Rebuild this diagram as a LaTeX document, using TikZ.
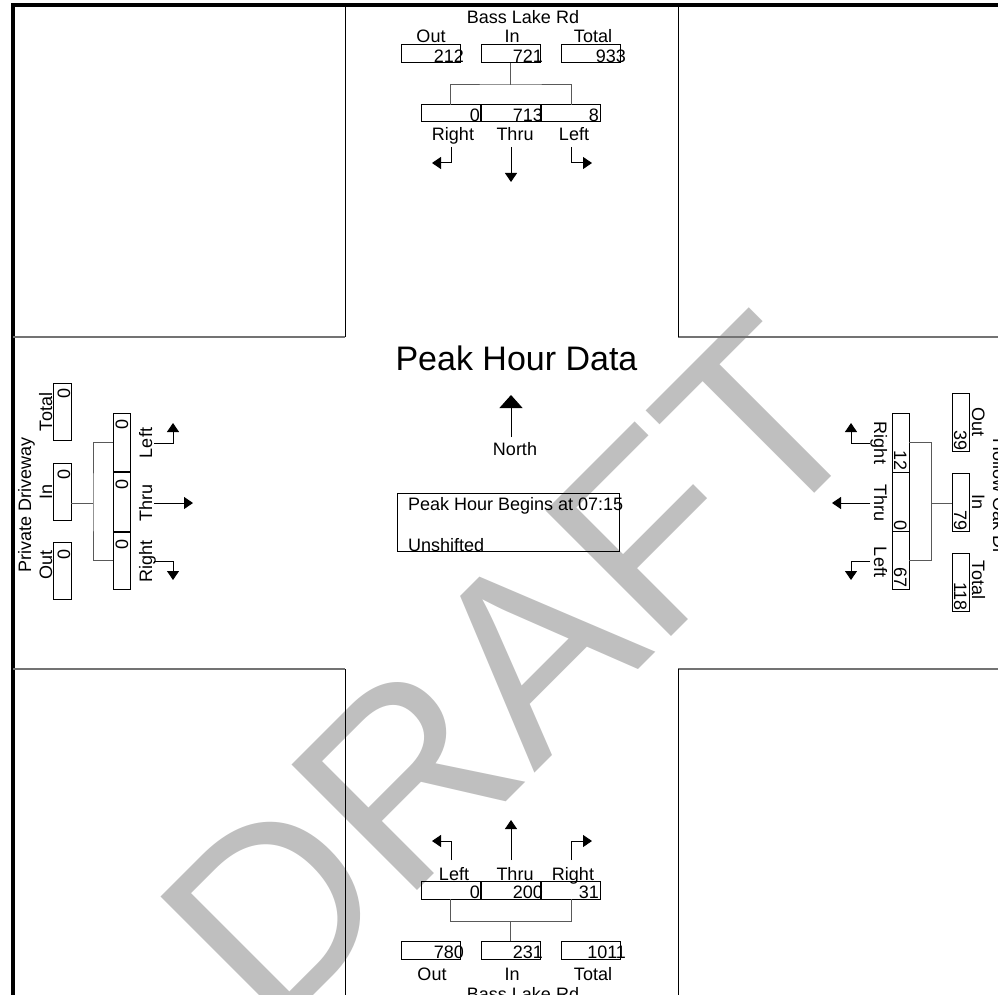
\documentclass[tikz,border=0pt]{standalone}
\usepackage{fontspec}
\setmainfont{Liberation Sans}
\usetikzlibrary{arrows.meta}
\begin{document}
\begin{tikzpicture}[x=1pt,y=-1pt,
  lbl/.style={font=\fontsize{18}{20}\selectfont, inner sep=0pt, outer sep=0pt},
  ttl/.style={font=\fontsize{34}{36}\selectfont, inner sep=0pt, outer sep=0pt},
  wm/.style={font=\fontsize{258}{258}\selectfont, text=black!25, inner sep=0pt, outer sep=0pt},
  hbox/.style={draw=black, line width=1pt, minimum width=59pt, minimum height=18pt, inner sep=0pt, outer sep=0pt},
  vbox/.style={draw=black, line width=1pt, minimum width=18pt, minimum height=58pt, inner sep=0pt, outer sep=0pt},
  conn/.style={draw=black!65, line width=1pt},
  grid/.style={draw=black, line width=1pt},
  hgrid/.style={draw=black!55, line width=1.5pt},
  arr/.style={draw=black, line width=1pt, -{Triangle[length=9pt,width=12pt]}},
  bigarr/.style={draw=black, line width=1pt, -{Triangle[length=13pt,width=23pt]}}
]
\useasboundingbox (0,0) rectangle (998,995);
\clip (0,0) rectangle (998,995);

% watermark
\node[wm, rotate=45, anchor=base west] (wmk) at (271,1037) {DRAFT};

% frame and corner blocks
\draw[line width=4pt] (998,5) -- (13,5) -- (13,995);
\draw[hgrid] (13,337) -- (345,337);
\draw[hgrid] (678,337) -- (998,337);
\draw[hgrid] (13,669) -- (345,669);
\draw[hgrid] (678,669) -- (998,669);
\draw[grid] (345,5) -- (345,337);
\draw[grid] (678,5) -- (678,337);
\draw[grid] (345,669) -- (345,995);
\draw[grid] (678,669) -- (678,995);

% ---------- North approach ----------
\node[lbl, anchor=base] (nName) at (523,24) {Bass Lake Rd};
\node[lbl, anchor=base] (nOutL) at (431,43) {Out};
\node[lbl, anchor=base] (nInL) at (512,43) {In};
\node[lbl, anchor=base] (nTotL) at (593,43) {Total};
\node[hbox] (nOut) at (430.5,54) {};
\node[hbox] (nIn) at (510.5,54) {};
\node[hbox] (nTot) at (591,54) {};
\node[lbl, anchor=base east] (nOutV) at (464,62.5) {212};
\node[lbl, anchor=base east] (nInV) at (543,62.5) {721};
\node[lbl, anchor=base east] (nTotV) at (626,62.5) {933};
\node[hbox, minimum height=17pt] (nR) at (450.5,113.5) {};
\node[hbox, minimum height=17pt] (nT) at (511,113.5) {};
\node[hbox, minimum height=17pt] (nL) at (571,113.5) {};
\node[lbl, anchor=base east] (nRV) at (480,122) {0};
\node[lbl, anchor=base east] (nTV) at (543,122) {713};
\node[lbl, anchor=base east] (nLV) at (599,122) {8};
\coordinate (nJ) at (510.5,85);
\draw[conn] (nIn.south) -- (nJ);
\draw[conn] (nR.north) |- (nJ) -| (nL.north);
\node[lbl, anchor=base] (nRL) at (453,141) {Right};
\node[lbl, anchor=base] (nTL) at (515,141) {Thru};
\node[lbl, anchor=base] (nLL) at (574,141) {Left};
\coordinate (nRa0) at (451,147); \coordinate (nRa1) at (432,163);
\coordinate (nTa0) at (511,147); \coordinate (nTa1) at (511,182);
\coordinate (nLa0) at (571,147); \coordinate (nLa1) at (592,163);
\draw[arr] (nRa0) |- (nRa1);
\draw[arr] (nTa0) -- (nTa1);
\draw[arr] (nLa0) |- (nLa1);

% ---------- South approach ----------
\coordinate (sLa0) at (451,860); \coordinate (sLa1) at (432,841);
\coordinate (sTa0) at (511,860); \coordinate (sTa1) at (511,820);
\coordinate (sRa0) at (571,860); \coordinate (sRa1) at (592,841);
\draw[arr] (sLa0) |- (sLa1);
\draw[arr] (sTa0) -- (sTa1);
\draw[arr] (sRa0) |- (sRa1);
\node[lbl, anchor=base] (sLL) at (454,880) {Left};
\node[lbl, anchor=base] (sTL) at (515,880) {Thru};
\node[lbl, anchor=base] (sRL) at (573,880) {Right};
\node[hbox] (sL) at (450.5,890) {};
\node[hbox] (sT) at (511,890) {};
\node[hbox] (sR) at (571,890) {};
\node[lbl, anchor=base east] (sLV) at (480,898) {0};
\node[lbl, anchor=base east] (sTV) at (543,898) {200};
\node[lbl, anchor=base east] (sRV) at (599,898) {31};
\coordinate (sJ) at (510.5,921);
\draw[conn] (sL.south) |- (sJ) -| (sR.south);
\node[hbox] (sOut) at (430.5,950) {};
\node[hbox] (sIn) at (510.5,950) {};
\node[hbox] (sTot) at (591,950) {};
\draw[conn] (sJ) -- (sIn.north);
\node[lbl, anchor=base east] (sOutV) at (464,958) {780};
\node[lbl, anchor=base east] (sInV) at (543,958) {231};
\node[lbl, anchor=base east] (sTotV) at (626,958) {1011};
\node[lbl, anchor=base] (sOutL) at (432,980) {Out};
\node[lbl, anchor=base] (sInL) at (512,980) {In};
\node[lbl, anchor=base] (sTotL) at (593,980) {Total};
\node[lbl, anchor=base] (sName) at (523,1000) {Bass Lake Rd};

% ---------- West approach ----------
\node[lbl, rotate=90, anchor=base] (wName) at (31,504.5) {Private Driveway};
\node[lbl, rotate=90, anchor=base] (wTotL) at (52,412) {Total};
\node[lbl, rotate=90, anchor=base] (wInL) at (52,492) {In};
\node[lbl, rotate=90, anchor=base] (wOutL) at (52,565) {Out};
\node[vbox, minimum height=57pt] (wTot) at (62,411.5) {};
\node[vbox, minimum height=57pt] (wIn) at (62,491.5) {};
\node[vbox, minimum height=57pt] (wOut) at (62,571) {};
\node[lbl, rotate=90, anchor=base east] (wTotV) at (70,388) {0};
\node[lbl, rotate=90, anchor=base east] (wInV) at (70,469) {0};
\node[lbl, rotate=90, anchor=base east] (wOutV) at (70,549) {0};
\node[vbox, minimum width=17pt] (wL) at (121.5,442) {};
\node[vbox, minimum width=17pt, minimum height=59pt] (wT) at (121.5,501.5) {};
\node[vbox, minimum width=17pt, minimum height=57pt] (wR) at (121.5,560.5) {};
\node[lbl, rotate=90, anchor=base east] (wLV) at (128,419) {0};
\node[lbl, rotate=90, anchor=base east] (wTV) at (128,479) {0};
\node[lbl, rotate=90, anchor=base east] (wRV) at (128,539) {0};
\coordinate (wJ) at (93,503);
\draw[conn] (wIn.east |- wJ) -- (wJ);
\draw[conn] (wL.west) -| (wJ) |- (wR.west);
\node[lbl, rotate=90, anchor=base] (wLL) at (152,443) {Left};
\node[lbl, rotate=90, anchor=base] (wTL) at (152,503) {Thru};
\node[lbl, rotate=90, anchor=base] (wRL) at (152,561) {Right};
\coordinate (wLa0) at (154,443); \coordinate (wLa1) at (173,423);
\coordinate (wTa0) at (154,503); \coordinate (wTa1) at (193,503);
\coordinate (wRa0) at (154,561); \coordinate (wRa1) at (173,580);
\draw[arr] (wLa0) -| (wLa1);
\draw[arr] (wTa0) -- (wTa1);
\draw[arr] (wRa0) -| (wRa1);

% ---------- East approach ----------
\coordinate (eRa0) at (870,443); \coordinate (eRa1) at (851,423);
\coordinate (eTa0) at (870,503); \coordinate (eTa1) at (832,503);
\coordinate (eLa0) at (870,561); \coordinate (eLa1) at (851,580);
\draw[arr] (eRa0) -| (eRa1);
\draw[arr] (eTa0) -- (eTa1);
\draw[arr] (eLa0) -| (eLa1);
\node[lbl, rotate=-90, anchor=base] (eRL) at (874,443) {Right};
\node[lbl, rotate=-90, anchor=base] (eTL) at (874,503) {Thru};
\node[lbl, rotate=-90, anchor=base] (eLL) at (874,562) {Left};
\node[vbox, minimum width=17pt, minimum height=59pt] (eR) at (900.5,442.5) {};
\node[vbox, minimum width=17pt, minimum height=59pt] (eT) at (900.5,501.5) {};
\node[vbox, minimum width=17pt, minimum height=58pt] (eL) at (900.5,560) {};
\node[lbl, rotate=-90, anchor=base east] (eRV) at (894,471) {12};
\node[lbl, rotate=-90, anchor=base east] (eTV) at (894,531) {0};
\node[lbl, rotate=-90, anchor=base east] (eLV) at (894,588) {67};
\coordinate (eJ) at (931,503);
\draw[conn] (eR.east) -| (eJ) |- (eL.east);
\node[vbox, minimum width=17pt] (eOut) at (960.5,422) {};
\node[vbox, minimum width=17pt] (eIn) at (960.5,502) {};
\node[vbox, minimum width=17pt] (eTot) at (960.5,582) {};
\draw[conn] (eJ) -- (eIn.west |- eJ);
\node[lbl, rotate=-90, anchor=base east] (eOutV) at (954,451) {39};
\node[lbl, rotate=-90, anchor=base east] (eInV) at (954,531) {79};
\node[lbl, rotate=-90, anchor=base east] (eTotV) at (954,611) {118};
\node[lbl, rotate=-90, anchor=base] (eOutL) at (972,422) {Out};
\node[lbl, rotate=-90, anchor=base] (eInL) at (972,502) {In};
\node[lbl, rotate=-90, anchor=base] (eTotL) at (972,580) {Total};
\node[lbl, rotate=-90, anchor=base] (eName) at (993,497) {Hollow Oak Dr};

% ---------- Centre ----------
\node[ttl, anchor=base] (title) at (516.5,370) {Peak Hour Data};
\coordinate (nArr0) at (511,437); \coordinate (nArr1) at (511,395);
\draw[bigarr] (nArr0) -- (nArr1);
\node[lbl, anchor=base] (north) at (515,455) {North};
\node[draw=black, line width=1pt, minimum width=222pt, minimum height=58pt, inner sep=0pt] (info) at (508,522) {};
\node[lbl, anchor=base west] (info1) at (408,510) {Peak Hour Begins at 07:15};
\node[lbl, anchor=base west] (info2) at (408,551) {Unshifted};
\end{tikzpicture}
\end{document}
